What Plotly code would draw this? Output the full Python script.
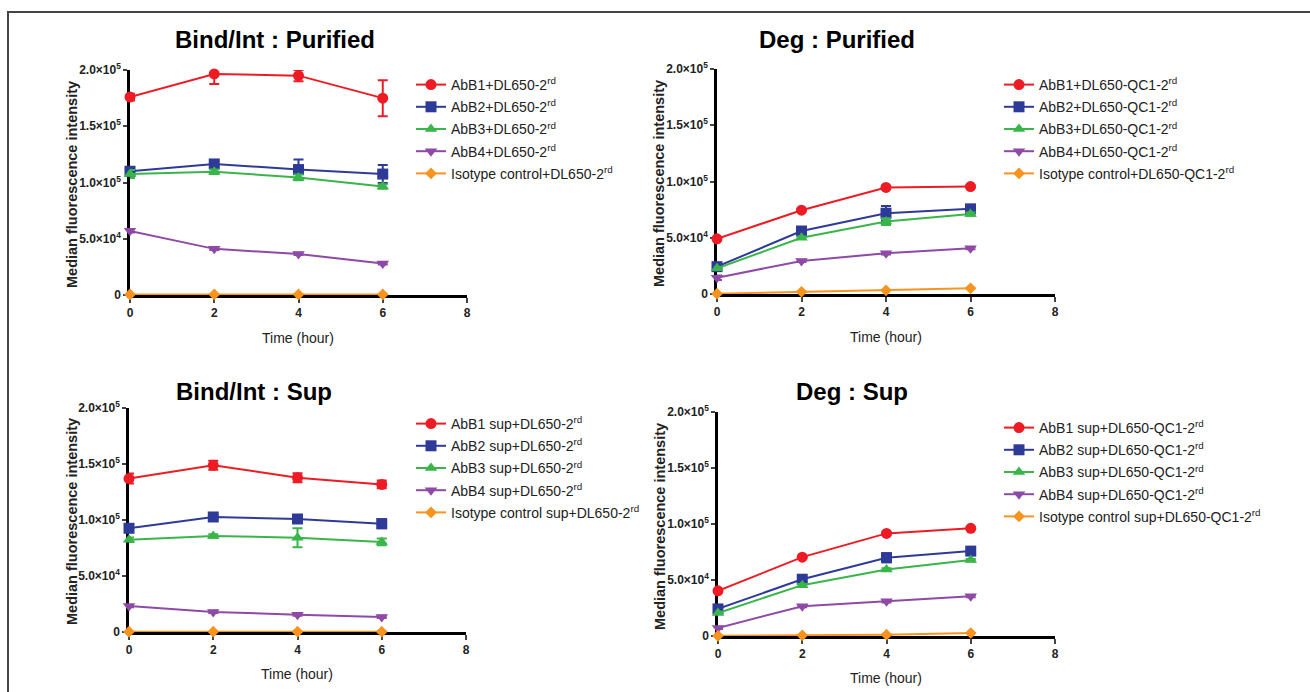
import plotly.graph_objects as go

W, H = 1310, 692

time_h = [0, 2, 4, 6]

series_colors = ["#ED1C24", "#2E3A97", "#39B54A", "#8E4AA6", "#F7931E"]
series_symbols = ["circle", "square", "triangle-up", "triangle-down", "diamond"]
series_sizes = [11, 11, 11, 11, 9]

# Panel 1: Bind/Int : Purified
bind_pur_names = ["AbB1+DL650-2<sup>rd</sup>", "AbB2+DL650-2<sup>rd</sup>", "AbB3+DL650-2<sup>rd</sup>",
                  "AbB4+DL650-2<sup>rd</sup>", "Isotype control+DL650-2<sup>rd</sup>"]
bind_pur_vals = [[176000, 196500, 195000, 175000],
                 [110000, 116500, 111500, 107500],
                 [107500, 109500, 104500, 96500],
                 [57000, 41000, 36500, 28000],
                 [500, 500, 500, 500]]
bind_pur_err = [[3000, 9000, 5000, 16000],
                [3000, 2500, 9000, 8000],
                [3500, 2000, 2500, 2000],
                [1500, 1000, 1000, 1000],
                [0, 0, 0, 0]]

# Panel 2: Deg : Purified
deg_pur_names = ["AbB1+DL650-QC1-2<sup>rd</sup>", "AbB2+DL650-QC1-2<sup>rd</sup>", "AbB3+DL650-QC1-2<sup>rd</sup>",
                 "AbB4+DL650-QC1-2<sup>rd</sup>", "Isotype control+DL650-QC1-2<sup>rd</sup>"]
deg_pur_vals = [[49000, 74500, 94700, 95500],
                [24300, 56000, 71800, 75700],
                [22800, 50000, 64400, 71000],
                [14500, 29400, 36200, 40700],
                [300, 2000, 3300, 5000]]
deg_pur_err = [[1000, 1000, 1000, 1000],
               [2000, 3500, 6500, 3500],
               [1000, 1000, 3000, 1500],
               [2000, 1000, 1000, 1000],
               [0, 0, 0, 0]]

# Panel 3: Bind/Int : Sup
bind_sup_names = ["AbB1 sup+DL650-2<sup>rd</sup>", "AbB2 sup+DL650-2<sup>rd</sup>", "AbB3 sup+DL650-2<sup>rd</sup>",
                  "AbB4 sup+DL650-2<sup>rd</sup>", "Isotype control sup+DL650-2<sup>rd</sup>"]
bind_sup_vals = [[137000, 148800, 137800, 131800],
                 [92600, 102700, 100900, 96700],
                 [82400, 85700, 84200, 80400],
                 [23200, 17900, 15500, 13400],
                 [300, 300, 300, 300]]
bind_sup_err = [[4500, 4000, 4000, 3500],
                [2000, 1500, 2000, 4000],
                [2000, 1500, 8500, 3000],
                [1000, 1000, 1000, 1000],
                [0, 0, 0, 0]]

# Panel 4: Deg : Sup
deg_sup_names = ["AbB1 sup+DL650-QC1-2<sup>rd</sup>", "AbB2 sup+DL650-QC1-2<sup>rd</sup>", "AbB3 sup+DL650-QC1-2<sup>rd</sup>",
                 "AbB4 sup+DL650-QC1-2<sup>rd</sup>", "Isotype control sup+DL650-QC1-2<sup>rd</sup>"]
deg_sup_vals = [[40300, 70400, 91600, 96100],
                [24200, 50700, 69900, 75800],
                [20600, 45400, 59400, 67800],
                [7200, 26600, 31000, 35500],
                [200, 600, 1200, 2700]]
deg_sup_err = [[1000, 1000, 1000, 1000],
               [1500, 2000, 4000, 2000],
               [1000, 1000, 1000, 1000],
               [1000, 1000, 1000, 1000],
               [0, 0, 0, 0]]

panel_titles = ["Bind/Int : Purified", "Deg : Purified", "Bind/Int : Sup", "Deg : Sup"]
x_ticks = [0, 2, 4, 6, 8]
y_ticks = [0, 50000, 100000, 150000, 200000]
y_ticktext = ["0", "5.0×10<sup>4</sup>", "1.0×10<sup>5</sup>", "1.5×10<sup>5</sup>", "2.0×10<sup>5</sup>"]
y_title = "Median fluorescence intensity"
x_title = "Time (hour)"

# layout in pixels: (x0, x1, ytop, ybottom)
panel_px = [(130, 467, 70, 295), (717, 1055, 69, 294), (129, 466, 408, 632), (718, 1055, 412, 636)]
title_px = [(275, 40), (837, 40), (254, 391), (852, 391)]
ytitle_px = [(72, 185), (659, 184), (72, 522), (660, 526)]
xtitle_px = [(298, 338), (886, 337), (297, 674), (886, 678)]
legend_px = [(411, 69), (999, 69), (411, 408), (999, 412)]

panels = [(bind_pur_names, bind_pur_vals, bind_pur_err),
          (deg_pur_names, deg_pur_vals, deg_pur_err),
          (bind_sup_names, bind_sup_vals, bind_sup_err),
          (deg_sup_names, deg_sup_vals, deg_sup_err)]

fig = go.Figure()
layout = dict(width=W, height=H, autosize=False,
              margin=dict(l=0, r=0, t=0, b=0, pad=0, autoexpand=False),
              paper_bgcolor="white", plot_bgcolor="white", template="none",
              font=dict(family="Arial, Liberation Sans, sans-serif", color="black"),
              annotations=[], shapes=[])

for p, (names, vals, errs) in enumerate(panels):
    k = "" if p == 0 else str(p + 1)
    leg = "legend" if p == 0 else "legend" + str(p + 1)
    for i in range(5):
        fig.add_trace(go.Scatter(
            x=time_h, y=vals[i], name=names[i], mode="lines+markers",
            xaxis="x" + k, yaxis="y" + k, legend=leg, legendgroup="g%d_%d" % (p, i),
            cliponaxis=False,
            line=dict(color=series_colors[i], width=2),
            marker=dict(symbol=series_symbols[i], size=series_sizes[i], color=series_colors[i]),
            error_y=dict(type="data", array=errs[i], visible=True, color=series_colors[i],
                         thickness=2, width=5),
        ))
    x0, x1, yt, yb = panel_px[p]
    layout["xaxis" + k] = dict(domain=[x0 / W, x1 / W], range=[0, 8], anchor="y" + k,
                               tickvals=x_ticks, ticks="outside", ticklen=5, tickwidth=2,
                               showline=True, linewidth=2.5, linecolor="black", automargin=False,
                               showgrid=False, zeroline=False, layer="below traces",
                               tickfont=dict(size=12, weight="bold", color="#222"))
    layout["yaxis" + k] = dict(domain=[1 - yb / H, 1 - yt / H], range=[0, 200000], anchor="x" + k,
                               tickvals=y_ticks, ticktext=y_ticktext, ticks="outside", ticklen=4,
                               tickwidth=2, showline=True, linewidth=2.5, linecolor="black",
                               automargin=False,
                               showgrid=False, zeroline=False, layer="below traces",
                               tickfont=dict(size=12, weight="bold", color="#222"))
    lx, ly = legend_px[p]
    layout[leg] = dict(x=lx / W, y=1 - ly / H, xanchor="left", yanchor="top",
                       font=dict(size=14, color="#222"), bgcolor="rgba(0,0,0,0)",
                       itemwidth=30, tracegroupgap=1)
    tx, ty = title_px[p]
    layout["annotations"].append(dict(text="<b>" + panel_titles[p] + "</b>", x=tx / W, y=1 - ty / H,
                                      xref="paper", yref="paper", showarrow=False,
                                      xanchor="center", yanchor="middle",
                                      font=dict(size=24, color="black")))
    ax, ay = ytitle_px[p]
    layout["annotations"].append(dict(text="<b>" + y_title + "</b>", x=ax / W, y=1 - ay / H,
                                      xref="paper", yref="paper", showarrow=False, textangle=-90,
                                      xanchor="center", yanchor="middle",
                                      font=dict(size=14.5, color="#222")))
    bx, by = xtitle_px[p]
    layout["annotations"].append(dict(text=x_title, x=bx / W, y=1 - by / H,
                                      xref="paper", yref="paper", showarrow=False,
                                      xanchor="center", yanchor="middle",
                                      font=dict(size=14, color="#222")))

layout["shapes"].append(dict(type="rect", xref="paper", yref="paper",
                             x0=8 / W, x1=1.05, y0=-0.05, y1=1 - 12 / H,
                             line=dict(color="#444", width=2), fillcolor="rgba(0,0,0,0)"))
layout["showlegend"] = True
fig.update_layout(**layout)
fig.write_html(
    "out.html",
    config={"displayModeBar": False, "responsive": False},
    post_script=("document.body.style.margin='0';document.body.style.overflow='hidden';"
                 "var d=document.getElementById('{plot_id}');"
                 "d.style.position='absolute';d.style.left='0px';d.style.top='0px';"),
)
